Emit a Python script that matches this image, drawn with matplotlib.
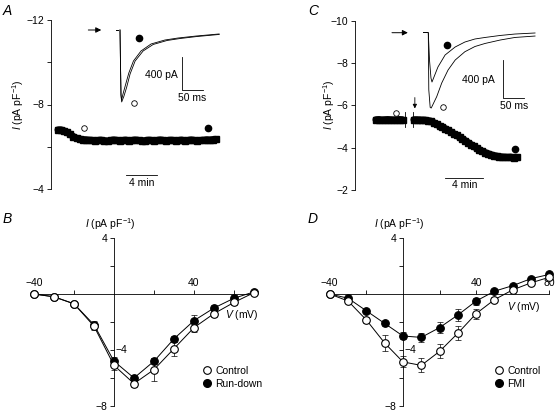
import matplotlib
matplotlib.use('Agg')
import matplotlib.pyplot as plt
import numpy as np
from matplotlib.lines import Line2D

plt.rcParams['font.family'] = ['Liberation Sans', 'DejaVu Sans']
plt.rcParams['mathtext.fontset'] = 'custom'
plt.rcParams['mathtext.rm'] = 'Liberation Sans'
plt.rcParams['mathtext.it'] = 'Liberation Sans:italic'
plt.rcParams['font.size'] = 7.5

# ---- panel A: time course of run-down (min, pA/pF) ----
a_t_start, a_t_step = 0.9, 0.4
a_vals = [-6.80, -6.80, -6.75, -6.68, -6.58, -6.48, -6.40, -6.36, -6.34, -6.33,
          -6.31, -6.30, -6.28, -6.30, -6.31, -6.29, -6.27, -6.30, -6.32, -6.30,
          -6.28, -6.30, -6.31, -6.29, -6.30, -6.32, -6.30, -6.28, -6.29, -6.31,
          -6.30, -6.28, -6.30, -6.32, -6.30, -6.29, -6.31, -6.30, -6.28, -6.30,
          -6.31, -6.29, -6.30, -6.32, -6.30, -6.28, -6.30, -6.31, -6.33, -6.32,
          -6.34, -6.35]
a_open = (4.3, -6.89)
a_fill = (20.3, -6.89)

# inset A current traces (ms, pA)
a_pre_t = [-9.5, -4.8]
a_pre_i = [0, 0]
a_ctrl_t = [0, 1.2, 2.4, 4.0, 9.5, 16, 24, 36, 55, 79, 112, 143, 183, 236]
a_ctrl_i = [0, -424, -787, -871, -799, -690, -532, -375, -254, -175, -127, -103, -79, -54]
a_run_t = [0, 1.2, 2.4, 3.6, 7.1, 13, 21, 32, 50, 74, 107, 138, 181, 236]
a_run_i = [0, -424, -787, -847, -775, -666, -520, -375, -254, -169, -121, -97, -73, -48]

# ---- panel C: time course with FMI ----
c1_t = (2.2, 5.0)
c1_vals = [-5.32, -5.33, -5.31, -5.32, -5.33, -5.32, -5.31, -5.32, -5.33, -5.32]
c2_t = (6.2, 17.0)
c2_vals = [-5.32, -5.32, -5.31, -5.30, -5.30, -5.28, -5.25, -5.18, -5.10, -5.03,
           -4.97, -4.90, -4.82, -4.74, -4.66, -4.58, -4.50, -4.42, -4.33, -4.24,
           -4.15, -4.06, -3.98, -3.90, -3.83, -3.77, -3.72, -3.67, -3.63, -3.60,
           -3.58, -3.56, -3.55, -3.54, -3.55, -3.53, -3.55]
c_open = (4.3, -5.65)
c_fill = (16.8, -3.95)

c_pre_t = [-12.6, -3]
c_pre_i = [10, 10]
c_ctrl_t = [0, 1.2, 4.5, 7, 20, 32, 47, 64, 87, 111, 135, 171, 206, 254]
c_ctrl_i = [0, -600, -785, -791, -672, -528, -392, -287, -200, -145, -113, -77, -50, -35]
c_fmi_t = [0, 2.9, 6.4, 8.8, 23, 40, 64, 87, 111, 135, 171, 206, 254]
c_fmi_i = [0, -287, -476, -518, -360, -234, -150, -98, -66, -50, -29, -14, -3]

# ---- panel B: I-V, control vs run-down ----
b_v = [-40, -30, -20, -10, 0, 10, 20, 30, 40, 50, 60, 70]
b_ctrl = [0.0, -0.2, -0.7, -2.3, -5.1, -6.4, -5.4, -3.9, -2.4, -1.4, -0.6, 0.1]
b_ctrl_err = [0.1, 0.1, 0.15, 0.3, 0.3, 0.25, 0.85, 0.5, 0.3, 0.25, 0.2, 0.1]
b_run = [0.0, -0.2, -0.7, -2.2, -4.8, -6.0, -4.8, -3.2, -1.9, -1.0, -0.3, 0.15]
b_run_err = [0.1, 0.1, 0.15, 0.3, 0.3, 0.2, 0.2, 0.2, 0.4, 0.2, 0.2, 0.1]

# ---- panel D: I-V, control vs FMI ----
d_v = [-40, -30, -20, -10, 0, 10, 20, 30, 40, 50, 60, 70, 80]
d_ctrl = [0.0, -0.5, -1.85, -3.5, -4.85, -5.1, -4.1, -2.8, -1.4, -0.4, 0.3, 0.8, 1.2]
d_ctrl_err = [0.1, 0.15, 0.2, 0.6, 0.4, 0.5, 0.5, 0.5, 0.35, 0.2, 0.15, 0.15, 0.15]
d_fmi = [0.0, -0.3, -1.2, -2.1, -3.0, -3.1, -2.4, -1.5, -0.5, 0.2, 0.6, 1.1, 1.4]
d_fmi_err = [0.1, 0.1, 0.15, 0.2, 0.25, 0.3, 0.4, 0.4, 0.25, 0.15, 0.15, 0.15, 0.15]

W, H = 558, 417
fig = plt.figure(figsize=(W / 100, H / 100), dpi=100)


def px_axes(x0, y0, x1, y1):
    return fig.add_axes([x0 / W, 1 - y1 / H, (x1 - x0) / W, (y1 - y0) / H])


def time_axes(ax):
    for s in ['top', 'right', 'bottom']:
        ax.spines[s].set_visible(False)
    ax.spines['left'].set_linewidth(0.6)
    ax.set_xticks([])
    ax.patch.set_alpha(0)
    ax.tick_params(axis='y', which='both', direction='out', length=3, width=0.6, pad=2)


def scale_bar(ax, x0, y0, dx, dy, ylab, xlab, ylab_xy, xlab_xy):
    ax.plot([x0, x0, x0 + dx], [y0 + dy, y0, y0], color='k', lw=0.6)
    ax.text(*ylab_xy, ylab, ha='right', va='center')
    ax.text(*xlab_xy, xlab, ha='center', va='top')


band = dict(color='k', lw=5, marker='s', ms=5, solid_capstyle='round')
arrow = dict(arrowstyle='-|>', lw=0.7, color='k', mutation_scale=8)

# ================= A =================
axA = px_axes(51, 20, 240, 189)
time_axes(axA)
axA.set_xlim(0, 24.4)
axA.set_ylim(-4, -12)
axA.set_yticks([-12, -8, -4])
axA.set_yticklabels(['\u221212', '\u22128', '\u22124'])
axA.set_yticks([-10, -6], minor=True)
ta = a_t_start + a_t_step * np.arange(len(a_vals))
axA.plot(ta, a_vals, **band)
axA.plot(*a_open, 'o', ms=4, mfc='white', mec='k', mew=0.6)
axA.plot(*a_fill, 'o', ms=4.5, color='k')
axA.plot([9.68, 13.68], [-4.66, -4.66], color='k', lw=0.6)
axA.text(11.68, -4.52, '4 min', ha='center', va='top')
fig.text(18 / W, 1 - 105 / H, r'$I$ (pA pF$^{-1}$)', rotation=90, ha='center', va='center')

insA = px_axes(80, 15, 230, 115)
insA.axis('off')
insA.set_xlim(-95.2, 261.8)
insA.set_ylim(-1028.5, 181.5)
insA.plot(a_pre_t, a_pre_i, color='k', lw=0.7)
insA.plot(a_ctrl_t, a_ctrl_i, color='k', lw=0.6)
insA.plot(a_run_t, a_run_i, color='k', lw=0.6)
insA.plot(33, -887, 'o', ms=4, mfc='white', mec='k', mew=0.6)
insA.plot(46, -100, 'o', ms=4.5, color='k')
insA.annotate('', xy=(-38, 0), xytext=(-82, 0), arrowprops=arrow)
scale_bar(insA, 147.6, -727, 50, 400, '400 pA', '50 ms', (138, -545), (171, -760))

# ================= C =================
axC = px_axes(355, 20.7, 545, 190)
time_axes(axC)
axC.set_xlim(0, 20)
axC.set_ylim(-2, -10)
axC.set_yticks([-10, -8, -6, -4, -2])
axC.set_yticklabels(['\u221210', '\u22128', '\u22126', '\u22124', '\u22122'])
axC.plot(np.linspace(*c1_t, len(c1_vals)), c1_vals, **band)
axC.plot(np.linspace(*c2_t, len(c2_vals)), c2_vals, **band)
axC.plot([5.26, 5.26], [-5.7, -5.0], color='k', lw=0.6)
axC.plot([6.1, 6.1], [-5.7, -5.0], color='k', lw=0.6)
axC.annotate('', xy=(6.3, -5.72), xytext=(6.3, -6.5),
             arrowprops=dict(arrowstyle='-|>', lw=0.6, color='k', mutation_scale=6))
axC.plot(*c_open, 'o', ms=4, mfc='white', mec='k', mew=0.6)
axC.plot(*c_fill, 'o', ms=4.5, color='k')
axC.plot([9.5, 13.5], [-2.58, -2.58], color='k', lw=0.6)
axC.text(11.5, -2.45, '4 min', ha='center', va='top')
fig.text(329 / W, 1 - 105 / H, r'$I$ (pA pF$^{-1}$)', rotation=90, ha='center', va='center')

insC = px_axes(385, 15, 545, 120)
insC.axis('off')
insC.set_xlim(-103, 277.7)
insC.set_ylim(-916.7, 185.9)
insC.plot(c_pre_t, c_pre_i, color='k', lw=0.7)
insC.plot(c_ctrl_t, c_ctrl_i, color='k', lw=0.6)
insC.plot(c_fmi_t, c_fmi_i, color='k', lw=0.6)
insC.plot(36, -783, 'o', ms=4, mfc='white', mec='k', mew=0.6)
insC.plot(44, -129, 'o', ms=4.5, color='k')
insC.annotate('', xy=(-42, 0), xytext=(-93, 0), arrowprops=arrow)
scale_bar(insC, 177.8, -687, 50, 400, '400 pA', '50 ms', (158.5, -497), (204, -720))


# ================= B and D =================
def iv_axes(ax, vmax, xlabels):
    ax.patch.set_alpha(0)
    for s in ['top', 'right']:
        ax.spines[s].set_visible(False)
    ax.spines['left'].set_position(('data', 0))
    ax.spines['bottom'].set_position(('data', 0))
    ax.spines['left'].set_bounds(-8, 4)
    ax.spines['bottom'].set_bounds(-40, vmax)
    for s in ['left', 'bottom']:
        ax.spines[s].set_linewidth(0.6)
    ax.set_yticks([4, -4, -8])
    ax.set_yticklabels(['4', '', '\u22128'])
    ax.set_yticks([2, -2, -6], minor=True)
    ax.tick_params(axis='y', which='both', direction='out', length=3, width=0.6, pad=2)
    ax.set_xticks(xlabels)
    ax.set_xticklabels([])
    ax.set_xticks(list(range(-20, vmax + 1, 40)), minor=True)
    ax.tick_params(axis='x', which='both', direction='in', length=3, width=0.6)
    for v in xlabels:
        ax.text(v, 0.45, str(v).replace('-', '\u2212'), ha='center', va='bottom', zorder=1)
    ax.text(0.9, -4, '\u22124', ha='left', va='center')
    ax.text(-2, 5.0, r'$I$ (pA pF$^{-1}$)', ha='center', va='center')


def iv_series(ax, v, y, err, filled):
    ax.errorbar(v, y, yerr=err, fmt='none', ecolor='k', elinewidth=0.5, capsize=2, capthick=0.5)
    ax.plot(v, y, color='k', lw=0.7, marker='o', ms=5.5,
            mfc='k' if filled else 'white', mec='k', mew=0.8, zorder=3 if filled else 4)


axB = px_axes(20, 225, 265, 412)
axB.set_xlim(-47, 75.5)
axB.set_ylim(-8.43, 4.93)
iv_axes(axB, 70, [-40, 40])
iv_series(axB, b_v, b_ctrl, b_ctrl_err, False)
iv_series(axB, b_v, b_run, b_run_err, True)
axB.text(64, -1.5, r'$V$ (mV)', ha='center', va='center')

axD = px_axes(318, 225, 556, 412)
axD.set_xlim(-46.4, 83.6)
axD.set_ylim(-8.43, 4.93)
iv_axes(axD, 80, [-40, 40, 80])
iv_series(axD, d_v, d_ctrl, d_ctrl_err, False)
iv_series(axD, d_v, d_fmi, d_fmi_err, True)
axD.text(66, -0.95, r'$V$ (mV)', ha='center', va='center')


def iv_legend(ax, labels, x, y):
    handles = [Line2D([], [], ls='none', marker='o', ms=5.5, mfc='white', mec='k', mew=0.8),
               Line2D([], [], ls='none', marker='o', ms=5.5, mfc='k', mec='k')]
    ax.legend(handles, labels, loc='upper left', bbox_to_anchor=(x / W, 1 - y / H),
              bbox_transform=fig.transFigure, frameon=False, borderpad=0,
              handlelength=0.8, handletextpad=0.4, labelspacing=0.25, borderaxespad=0,
              fontsize=7.5)


iv_legend(axB, ['Control', 'Run-down'], 203, 366)
iv_legend(axD, ['Control', 'FMI'], 495, 366)

# panel letters
for lab, x, y in [('A', 3, 11), ('C', 308, 11), ('B', 3, 219), ('D', 308, 219)]:
    fig.text(x / W, 1 - y / H, lab, fontsize=10, style='italic', ha='left', va='center')

fig.savefig('out.png', dpi=100)
